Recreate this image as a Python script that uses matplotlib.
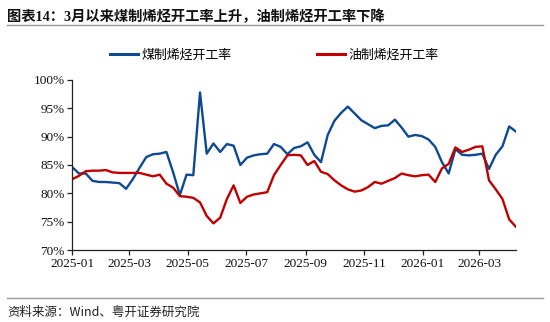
import matplotlib
matplotlib.use("Agg")
import matplotlib.pyplot as plt
import matplotlib.dates as mdates
from matplotlib.lines import Line2D
import pandas as pd

plt.rcParams['font.family'] = ['Liberation Serif', 'Noto Sans CJK SC', 'DejaVu Sans']

# weekly observations
dates = pd.date_range('2025-01-01', periods=67, freq='7D')

coal_olefin = [
    84.6, 83.5, 83.5, 82.2, 82.0, 82.0, 81.9, 81.8, 80.8, 82.5,
    84.5, 86.4, 86.9, 87.0, 87.3, 83.7, 79.7, 83.3, 83.2, 97.8,
    87.0, 88.8, 87.3, 88.7, 88.4, 85.0, 86.3, 86.7, 86.9, 87.0,
    88.7, 88.2, 86.9, 88.0, 88.3, 89.0, 86.8, 85.5, 90.3, 92.8,
    94.2, 95.3, 94.1, 92.9, 92.2, 91.5, 91.9, 92.0, 93.0, 91.6,
    90.0, 90.3, 90.1, 89.5, 88.2, 85.5, 83.5, 87.8, 86.8, 86.7,
    86.8, 87.0, 84.3, 86.8, 88.3, 91.8, 90.9,
]

oil_olefin = [
    82.5, 83.1, 83.9, 84.0, 84.0, 84.1, 83.7, 83.6, 83.6, 83.6,
    83.6, 83.3, 83.0, 83.3, 81.7, 81.0, 79.5, 79.4, 79.2, 78.4,
    76.0, 74.7, 75.7, 79.0, 81.4, 78.3, 79.4, 79.8, 80.0, 80.2,
    83.2, 85.0, 86.7, 86.8, 86.7, 85.0, 85.7, 83.8, 83.4, 82.3,
    81.4, 80.7, 80.3, 80.5, 81.1, 82.0, 81.7, 82.2, 82.7, 83.5,
    83.2, 83.0, 83.2, 83.3, 82.0, 84.4, 85.2, 88.1, 87.3, 87.7,
    88.2, 88.3, 82.3, 80.7, 79.0, 75.4, 74.1,
]

series_names = ['煤制烯烃开工率', '油制烯烃开工率']
colors = ['#0E4A92', '#C00000']

title = '图表14：3月以来煤制烯烃开工率上升，油制烯烃开工率下降'
source = '资料来源：Wind、粤开证券研究院'

fig = plt.figure(figsize=(5.5, 3.22), dpi=100)
ax = fig.add_axes([0.1315, 0.2236, 0.8065, 0.528])

ax.plot(dates, coal_olefin, color=colors[0], lw=1.7, solid_joinstyle='round')
ax.plot(dates, oil_olefin, color=colors[1], lw=1.7, solid_joinstyle='round')

ax.set_xlim(dates[0], dates[-1])
ax.set_ylim(70, 100)
ax.set_yticks([70, 75, 80, 85, 90, 95, 100])
ax.set_yticklabels([f'{v}%' for v in [70, 75, 80, 85, 90, 95, 100]])
ax.xaxis.set_major_locator(mdates.MonthLocator(bymonth=[1, 3, 5, 7, 9, 11]))
ax.xaxis.set_major_formatter(mdates.DateFormatter('%Y-%m'))

for s in ['top', 'right']:
    ax.spines[s].set_visible(False)
for s in ['left', 'bottom']:
    ax.spines[s].set_color('#222222')
    ax.spines[s].set_linewidth(0.9)
ax.tick_params(axis='both', direction='out', length=3.5, width=0.9,
               color='#222222', labelsize=9.5, labelcolor='#111111', pad=2)

handles = [Line2D([], [], color=c, lw=2.2) for c in colors]
fig.legend(handles, series_names, loc='center', bbox_to_anchor=(0.498, 0.829),
           ncol=2, frameon=False, handlelength=2.2,
           handletextpad=0.25, columnspacing=6.6,
           prop={'family': ['Noto Sans CJK SC'], 'size': 9.3})

fig.text(0.0127, 1 - 17 / 322, title, fontsize=10.3, fontweight='bold',
         va='center', ha='left', color='#111111',
         family=['Liberation Serif', 'Noto Sans CJK SC'])
fig.add_artist(Line2D([7 / 550, 543 / 550], [1 - 24.5 / 322, 1 - 24.5 / 322],
                      color='#999999', lw=1.0))
fig.add_artist(Line2D([7 / 550, 543 / 550], [1 - 297.5 / 322, 1 - 297.5 / 322],
                      color='#999999', lw=1.0))
fig.text(0.0127, 1 - 312.5 / 322, source, fontsize=9, style='italic',
         va='center', ha='left', color='#222222',
         family=['Noto Sans CJK SC', 'Liberation Serif'])

fig.savefig('out.png', dpi=100)
